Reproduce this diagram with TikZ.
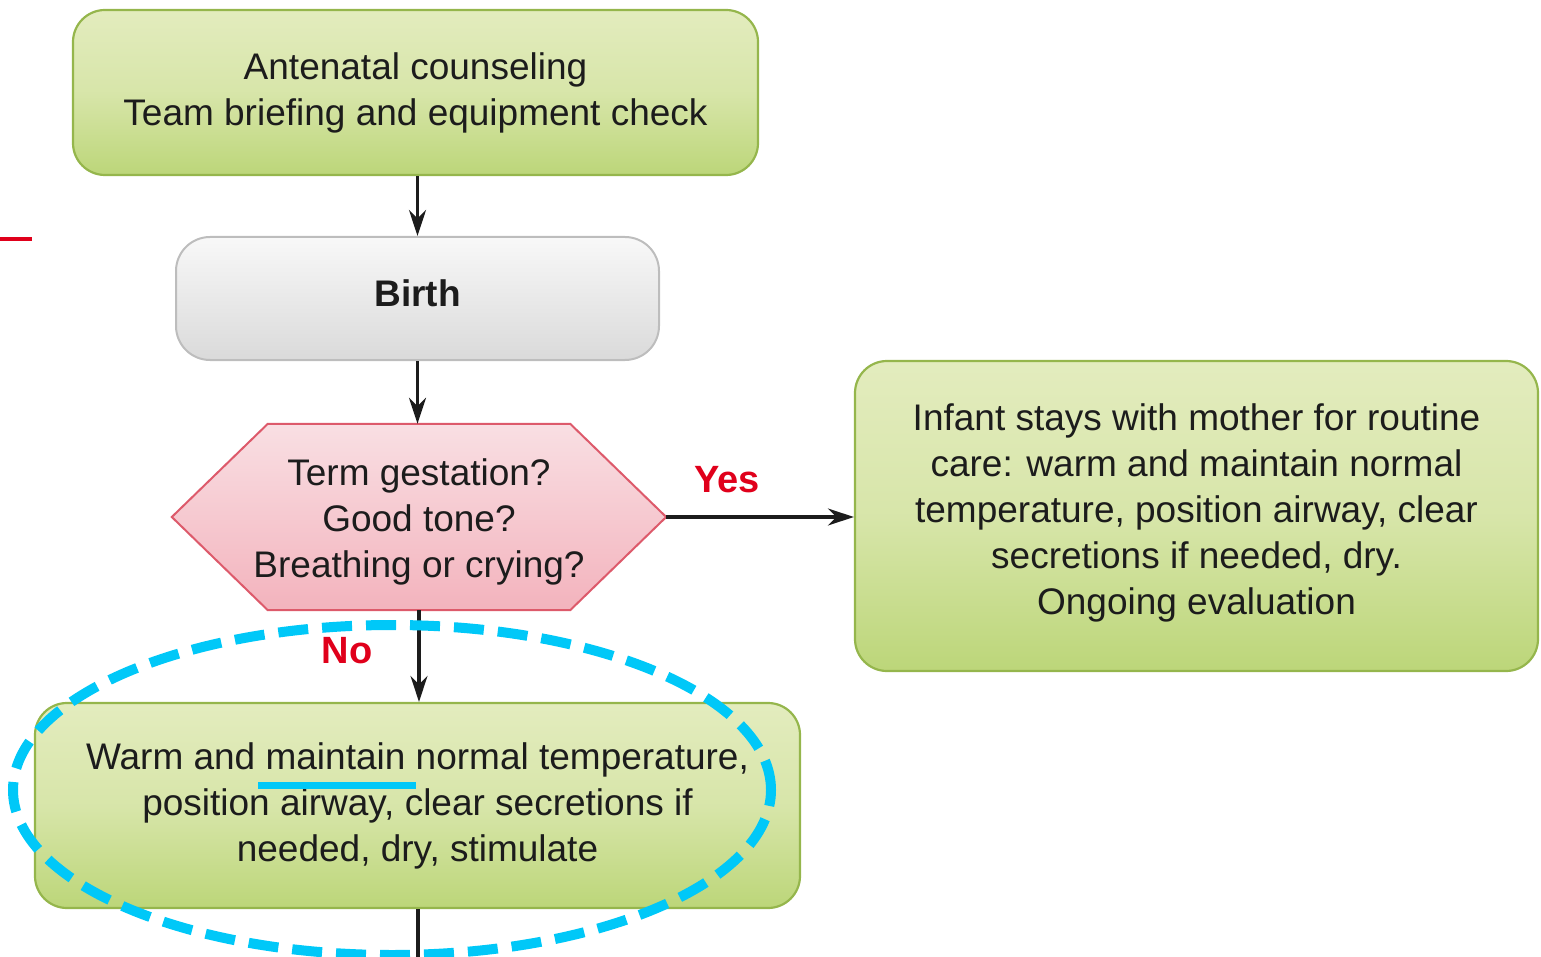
\documentclass[tikz,border=0pt]{standalone}
\usepackage{fontspec}
\setmainfont{Liberation Sans}
\usetikzlibrary{arrows.meta}
\definecolor{greentop}{HTML}{E3ECBE}
\definecolor{greenbot}{HTML}{BCD679}
\definecolor{greenedge}{HTML}{95B64C}
\definecolor{graytop}{HTML}{F8F8F8}
\definecolor{graybot}{HTML}{DADADA}
\definecolor{grayedge}{HTML}{BDBDBD}
\definecolor{pinktop}{HTML}{F9DFE3}
\definecolor{pinkbot}{HTML}{F3B3BD}
\definecolor{pinkedge}{HTML}{DD5A6B}
\definecolor{ink}{HTML}{1C1C1C}
\definecolor{labelred}{HTML}{E0001B}
\definecolor{marker}{HTML}{00C8F8}
\tikzset{
  txt/.style={font=\fontsize{37}{46}\selectfont, text=ink, align=center},
  greenbox/.style={txt, draw=greenedge, line width=2.2pt, rounded corners=32pt,
    top color=greentop, bottom color=greenbot, middle color=greentop!70!greenbot},
  graybox/.style={txt, draw=grayedge, line width=2pt, rounded corners=34pt,
    top color=graytop, bottom color=graybot},
  hexfill/.style={draw=pinkedge, line width=2pt, top color=pinktop, bottom color=pinkbot},
  flow/.style={draw=ink, line width=3.2pt, -{Stealth[length=26pt,width=17pt]}},
  answer/.style={font=\bfseries\fontsize{38}{44}\selectfont, text=labelred},
  highlight/.style={draw=marker, line width=10pt, dash pattern=on 30pt off 14pt},
}
\begin{document}
\begin{tikzpicture}[x=1pt,y=-1pt]
\useasboundingbox (0,0) rectangle (1541,957);

% process boxes
\node[greenbox, minimum width=685pt, minimum height=165pt] (brief) at (415.5,92.5)
  {Antenatal counseling\\Team briefing and equipment check};
\node[graybox, minimum width=483pt, minimum height=123pt, text height=0pt, text depth=0pt] (birth) at (417.5,298.5) {};
\node[txt, font=\bfseries\fontsize{37}{46}\selectfont] (birthtext) at ([yshift=5pt]birth.center) {Birth};

% decision hexagon
\node[txt, minimum width=494pt, minimum height=186pt, inner sep=0pt] (check) at (419,517) {};
\path[hexfill] (check.west) -- ([xshift=96pt]check.north west) -- ([xshift=-96pt]check.north east)
  -- (check.east) -- ([xshift=-96pt]check.south east) -- ([xshift=96pt]check.south west) -- cycle;
\node[txt] (checktext) at ([yshift=-5pt]check.center) {Term gestation?\\Good tone?\\Breathing or crying?};

\node[greenbox, minimum width=683pt, minimum height=310pt] (routine) at (1196.5,516) {};
\node[txt] (routinetext) at ([yshift=3pt]routine.center)
  {Infant stays with mother for routine\\care: warm and maintain normal\\temperature, position airway, clear\\secretions if needed, dry.\\Ongoing evaluation};
\node[greenbox, minimum width=765pt, minimum height=205pt] (warm) at (417.5,805.5)
  {Warm and maintain normal temperature,\\position airway, clear secretions if\\needed, dry, stimulate};

% connectors
\draw[flow] (brief.south -| birth.north) -- (birth.north);
\draw[flow] (birth.south) -- (birth.south |- check.north);
\draw[flow] (check.east) -- (routine.west |- check.east);
\draw[flow] (check.south) -- (check.south |- warm.north);
\coordinate (cont) at (418,957);
\draw[draw=ink, line width=3.2pt] (warm.south -| cont) -- (cont);

% answer labels
\node[answer] (yes) at (727,480) {Yes};
\node[answer] (no) at (347,651) {No};

% annotations
\draw[highlight] (392,790) ellipse [x radius=379pt, y radius=165pt];
\coordinate (ulA) at (258,785);
\coordinate (ulB) at (416,785);
\draw[draw=marker, line width=7pt] (ulA) -- (ulB);
\coordinate (tickA) at (0,239);
\coordinate (tickB) at (32,239);
\draw[draw=labelred, line width=4pt] (tickA) -- (tickB);
\end{tikzpicture}
\end{document}
